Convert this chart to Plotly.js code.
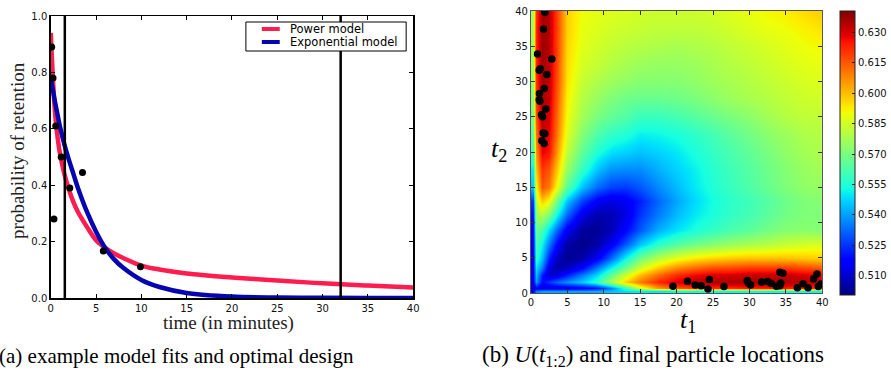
<!DOCTYPE html>
<html>
<head>
<meta charset="utf-8">
<script src="https://cdn.plot.ly/plotly-3.0.1.min.js"></script>
<style>html,body{margin:0;padding:0;background:#fff;}#chart{width:891px;height:371px;}</style>
</head>
<body>
<div id="chart"></div>
<script>
// ---- Panel (a): model fits ----
const fitTimes = [0, 0.25, 0.5, 0.75, 1, 1.5, 2, 2.5, 3, 4, 5, 6, 7, 8, 10, 12, 15, 20, 25, 30, 35, 40];
const powerModel = [0.94, 0.77, 0.645, 0.57, 0.515, 0.44, 0.385, 0.34, 0.305, 0.252, 0.205, 0.178, 0.158, 0.142, 0.115, 0.101, 0.087, 0.073, 0.062, 0.052, 0.044, 0.037];
const expModel = [0.78, 0.735, 0.69, 0.65, 0.61, 0.545, 0.49, 0.44, 0.39, 0.305, 0.235, 0.178, 0.137, 0.107, 0.064, 0.039, 0.018, 0.005, 0.0015, 0.0005, 0.0001, 0];
const obsTimes = [0.1, 0.25, 0.55, 1.15, 0.35, 2.1, 3.5, 5.8, 9.9];
const obsRetention = [0.89, 0.78, 0.61, 0.50, 0.28, 0.39, 0.445, 0.167, 0.111];
const designTimes = [1.55, 32];
const xTicksA = [0, 5, 10, 15, 20, 25, 30, 35, 40];
const yTicksA = [0, 0.2, 0.4, 0.6, 0.8, 1.0];
const legendLabels = ['Power model', 'Exponential model'];

// ---- Panel (b): utility surface U(t1, t2) ----
const gridT1 = [0.25, 0.75, 1.5, 2.5, 3.5, 5, 7, 9, 11, 13, 15, 17.5, 20, 22.5, 25, 27.5, 30, 32.5, 35, 37.5, 39.75];
const gridT2 = [0.25, 0.75, 1.5, 2.5, 3.5, 5, 7, 9, 11, 13, 15, 17.5, 20, 22.5, 25, 27.5, 30, 32.5, 35, 37.5, 39.75];
const utility = [
 [0.515,0.535,0.540,0.540,0.540,0.540,0.540,0.542,0.545,0.548,0.550,0.550,0.552,0.552,0.552,0.552,0.552,0.552,0.552,0.552,0.552],
 [0.510,0.515,0.512,0.512,0.512,0.512,0.515,0.520,0.535,0.560,0.585,0.605,0.615,0.620,0.622,0.622,0.624,0.624,0.624,0.622,0.620],
 [0.515,0.540,0.518,0.525,0.532,0.538,0.546,0.558,0.578,0.597,0.610,0.622,0.630,0.633,0.635,0.635,0.636,0.636,0.635,0.634,0.632],
 [0.515,0.545,0.522,0.510,0.512,0.522,0.535,0.548,0.566,0.585,0.600,0.612,0.622,0.627,0.630,0.630,0.632,0.632,0.632,0.630,0.628],
 [0.515,0.550,0.535,0.512,0.506,0.508,0.518,0.535,0.552,0.568,0.585,0.598,0.608,0.613,0.617,0.618,0.620,0.620,0.620,0.618,0.615],
 [0.515,0.558,0.545,0.522,0.508,0.503,0.505,0.515,0.532,0.552,0.568,0.580,0.588,0.593,0.596,0.598,0.599,0.599,0.599,0.598,0.597],
 [0.515,0.562,0.552,0.535,0.518,0.505,0.502,0.505,0.515,0.530,0.545,0.556,0.563,0.568,0.572,0.575,0.578,0.580,0.583,0.585,0.586],
 [0.517,0.568,0.562,0.548,0.532,0.515,0.504,0.503,0.507,0.518,0.530,0.542,0.549,0.554,0.558,0.562,0.565,0.569,0.572,0.573,0.572],
 [0.520,0.575,0.580,0.570,0.552,0.532,0.513,0.506,0.507,0.513,0.525,0.535,0.544,0.550,0.554,0.558,0.561,0.565,0.569,0.571,0.571],
 [0.525,0.583,0.598,0.590,0.568,0.545,0.527,0.516,0.512,0.515,0.522,0.532,0.541,0.548,0.553,0.557,0.560,0.564,0.568,0.571,0.572],
 [0.545,0.590,0.615,0.610,0.590,0.565,0.545,0.533,0.527,0.526,0.530,0.537,0.544,0.550,0.555,0.559,0.563,0.567,0.571,0.574,0.575],
 [0.550,0.598,0.620,0.615,0.598,0.575,0.558,0.545,0.538,0.537,0.537,0.542,0.547,0.551,0.556,0.560,0.564,0.568,0.572,0.575,0.577],
 [0.560,0.605,0.628,0.625,0.605,0.582,0.566,0.555,0.549,0.547,0.545,0.547,0.550,0.554,0.558,0.562,0.566,0.570,0.574,0.577,0.579],
 [0.565,0.610,0.632,0.628,0.610,0.587,0.572,0.563,0.558,0.555,0.551,0.552,0.554,0.557,0.561,0.565,0.569,0.573,0.576,0.579,0.580],
 [0.570,0.615,0.634,0.630,0.612,0.590,0.577,0.570,0.566,0.563,0.559,0.559,0.561,0.564,0.567,0.570,0.573,0.577,0.580,0.582,0.582],
 [0.572,0.618,0.635,0.632,0.614,0.592,0.580,0.575,0.571,0.568,0.567,0.567,0.568,0.570,0.573,0.576,0.578,0.580,0.582,0.584,0.585],
 [0.575,0.620,0.636,0.633,0.616,0.594,0.583,0.579,0.576,0.574,0.572,0.572,0.572,0.574,0.576,0.578,0.580,0.582,0.584,0.586,0.587],
 [0.577,0.622,0.636,0.633,0.617,0.595,0.586,0.583,0.580,0.578,0.576,0.575,0.575,0.576,0.578,0.580,0.582,0.584,0.586,0.588,0.589],
 [0.578,0.622,0.637,0.634,0.618,0.596,0.588,0.585,0.583,0.581,0.580,0.579,0.578,0.579,0.580,0.582,0.584,0.586,0.588,0.590,0.591],
 [0.578,0.622,0.637,0.634,0.618,0.597,0.589,0.587,0.585,0.584,0.583,0.582,0.582,0.582,0.583,0.585,0.587,0.589,0.590,0.592,0.594],
 [0.578,0.620,0.636,0.634,0.618,0.597,0.590,0.588,0.587,0.586,0.585,0.584,0.584,0.584,0.585,0.587,0.589,0.591,0.592,0.595,0.597]
];
const particleT1 = [1.91,1.73,0.91,2.87,1.28,1.14,2.19,1.82,1.18,1.14,1.23,2.05,1.46,1.59,1.69,1.91,1.50,1.82,
  19.5,21.5,22.55,23.37,24.5,24.3,26.5,29.7,29.84,30.16,31.66,32.48,33.0,33.7,34.17,34.6,34.3,34.17,36.58,37.36,38.04,38.8,39.27,39.45,39.8];
const particleT2 = [39.8,37.4,33.9,33.2,31.8,31.6,31.0,29.0,28.3,27.4,27.2,26.1,25.3,25.0,22.7,22.6,21.6,21.2,
  0.95,1.65,1.15,1.03,1.9,0.55,0.92,1.78,1.42,1.13,1.55,1.62,1.33,0.96,2.95,2.8,1.42,1.04,0.75,1.3,0.75,2.0,2.7,0.92,1.28];
const ticksB = [0, 5, 10, 15, 20, 25, 30, 35, 40];
const cbTicks = [0.510, 0.525, 0.540, 0.555, 0.570, 0.585, 0.600, 0.615, 0.630];
const zMin = 0.5005, zMax = 0.6405;

// matplotlib "jet"
const jet = [
 [0,'rgb(0,0,128)'],[0.11,'rgb(0,0,255)'],[0.125,'rgb(0,0,255)'],[0.34,'rgb(0,219,255)'],
 [0.35,'rgb(0,230,247)'],[0.375,'rgb(21,255,226)'],[0.64,'rgb(239,255,8)'],[0.65,'rgb(247,245,0)'],
 [0.66,'rgb(255,236,0)'],[0.89,'rgb(255,19,0)'],[0.91,'rgb(232,0,0)'],[1,'rgb(128,0,0)']
];

const W = 891, H = 371;
const px = x => x / W, py = y => (H - y) / H;
const tickFont = {family: 'DejaVu Sans, sans-serif', size: 10, color: '#111'};
const serif = 'Liberation Serif, DejaVu Serif, serif';

const red = '#ff1d4f', blue = '#0606b0';

const traces = [
  {x: fitTimes, y: powerModel, type: 'scatter', mode: 'lines', line: {color: red, width: 4.5, shape: 'spline'}, xaxis: 'x', yaxis: 'y', showlegend: false, hoverinfo: 'skip'},
  {x: fitTimes, y: expModel, type: 'scatter', mode: 'lines', line: {color: blue, width: 4.5, shape: 'spline'}, xaxis: 'x', yaxis: 'y', showlegend: false, hoverinfo: 'skip'}
];
designTimes.forEach(t => traces.push({x: [t, t], y: [0, 1], type: 'scatter', mode: 'lines', line: {color: '#000', width: 2.5}, xaxis: 'x', yaxis: 'y', showlegend: false}));
traces.push({x: obsTimes, y: obsRetention, type: 'scatter', mode: 'markers', marker: {color: '#000', size: 7}, xaxis: 'x', yaxis: 'y', showlegend: false});

traces.push({
  x: gridT1, y: gridT2, z: utility, type: 'heatmap', xaxis: 'x2', yaxis: 'y2',
  colorscale: jet, zmin: zMin, zmax: zMax, zsmooth: 'best',
  colorbar: {
    x: px(844), xanchor: 'left', y: py(295), yanchor: 'bottom', len: (295 - 11) / H, lenmode: 'fraction',
    thickness: 15, thicknessmode: 'pixels', xpad: 0, ypad: 0, outlinewidth: 1, outlinecolor: '#222',
    tickvals: cbTicks, tickformat: '.3f', ticks: 'inside', ticklen: 3, tickcolor: '#222',
    tickfont: tickFont
  }
});
traces.push({x: particleT1, y: particleT2, type: 'scatter', mode: 'markers', marker: {color: '#000', size: 7.5}, xaxis: 'x2', yaxis: 'y2', showlegend: false});

const axA = {
  showgrid: false, zeroline: false, showline: true, linecolor: '#000', linewidth: 1.5, mirror: 'ticks',
  ticks: 'inside', ticklen: 4, tickcolor: '#000', tickfont: tickFont
};
const axB = {
  showgrid: false, zeroline: false, showline: true, linecolor: '#555', linewidth: 1, mirror: 'ticks',
  ticks: 'inside', ticklen: 4, tickcolor: '#333', tickfont: tickFont, range: [0, 40], tickvals: ticksB
};

const layout = {
  width: W, height: H, margin: {l: 0, r: 0, t: 0, b: 0}, paper_bgcolor: '#fff', plot_bgcolor: '#fff',
  showlegend: false,
  xaxis: Object.assign({}, axA, {domain: [px(51), px(415)], range: [0, 40], tickvals: xTicksA, anchor: 'y'}),
  yaxis: Object.assign({}, axA, {domain: [py(298), py(16)], range: [0, 1], tickvals: yTicksA, tickformat: '.1f', anchor: 'x'}),
  xaxis2: Object.assign({}, axB, {domain: [px(533.3), px(826)], anchor: 'y2'}),
  yaxis2: Object.assign({}, axB, {domain: [py(293), py(11)], anchor: 'x2'}),
  shapes: [
    {type: 'rect', xref: 'paper', yref: 'paper', x0: px(247), x1: px(408), y0: py(51), y1: py(22), line: {color: '#000', width: 1}, fillcolor: '#fff', layer: 'above'},
    {type: 'line', xref: 'paper', yref: 'paper', x0: px(263), x1: px(281), y0: py(29), y1: py(29), line: {color: red, width: 4}, layer: 'above'},
    {type: 'line', xref: 'paper', yref: 'paper', x0: px(263), x1: px(281), y0: py(42), y1: py(42), line: {color: blue, width: 4}, layer: 'above'}
  ],
  annotations: [
    {text: legendLabels[0], xref: 'paper', yref: 'paper', x: px(289), y: py(29), xanchor: 'left', yanchor: 'middle', showarrow: false, font: {family: 'DejaVu Sans, sans-serif', size: 11.5, color: '#000'}},
    {text: legendLabels[1], xref: 'paper', yref: 'paper', x: px(289), y: py(42), xanchor: 'left', yanchor: 'middle', showarrow: false, font: {family: 'DejaVu Sans, sans-serif', size: 11.5, color: '#000'}},
    {text: 'time (in minutes)', xref: 'paper', yref: 'paper', x: px(230), y: py(323), xanchor: 'center', yanchor: 'middle', showarrow: false, font: {family: serif, size: 19, color: '#222'}},
    {text: 'probability of retention', xref: 'paper', yref: 'paper', x: px(17), y: py(150), xanchor: 'center', yanchor: 'middle', textangle: -90, showarrow: false, font: {family: serif, size: 19, color: '#222'}},
    {text: '<i>t</i><sub>2</sub>', xref: 'paper', yref: 'paper', x: px(501), y: py(150), xanchor: 'center', yanchor: 'middle', showarrow: false, font: {family: serif, size: 26, color: '#000'}},
    {text: '<i>t</i><sub>1</sub>', xref: 'paper', yref: 'paper', x: px(691), y: py(321), xanchor: 'center', yanchor: 'middle', showarrow: false, font: {family: serif, size: 26, color: '#000'}},
    {text: '(a) example model fits and optimal design', xref: 'paper', yref: 'paper', x: px(-3), y: py(356), xanchor: 'left', yanchor: 'middle', showarrow: false, font: {family: serif, size: 21, color: '#000'}},
    {text: '(b) <i>U</i>(<i>t</i><sub>1:2</sub>) and final particle locations', xref: 'paper', yref: 'paper', x: px(482), y: py(356), xanchor: 'left', yanchor: 'middle', showarrow: false, font: {family: serif, size: 23, color: '#000'}}
  ]
};

Plotly.newPlot('chart', traces, layout, {staticPlot: true, displayModeBar: false});
</script>
</body>
</html>
